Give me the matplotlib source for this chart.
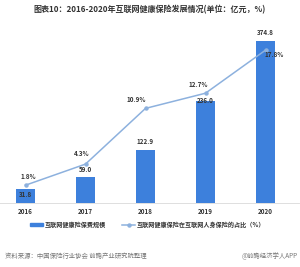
import numpy as np
import matplotlib.pyplot as plt
from matplotlib.lines import Line2D
from matplotlib.patches import Patch

plt.rcParams['font.family'] = ['Noto Sans CJK SC', 'DejaVu Sans']

# Data
years = ['2016', '2017', '2018', '2019', '2020']
premium = [31.8, 59.0, 122.9, 236.0, 374.8]     # 亿元
share = [1.8, 4.3, 10.9, 12.7, 17.8]            # %

bar_color = '#3d80dc'
line_color = '#8db1de'
text_color = '#333333'

fig = plt.figure(figsize=[3.0, 2.67], dpi=100)
ax = fig.add_axes([-0.005, 0.24, 1.0, 0.648])
x = np.arange(len(years))

ax.bar(x, premium, width=0.31, color=bar_color, zorder=2)
ax.set_xlim(-0.45, 4.55)
ax.set_ylim(0, 400)
ax.set_xticks(x)
ax.set_xticklabels(years, fontsize=4.5, fontweight='bold', color=text_color)
ax.tick_params(axis='x', length=0, pad=4)
ax.set_yticks([])
for s in ['top', 'right', 'left']:
    ax.spines[s].set_visible(False)
ax.spines['bottom'].set_color('#d9d9d9')
ax.spines['bottom'].set_linewidth(0.6)

# value labels on bars
for i, v in enumerate(premium):
    if i == 0:
        ax.text(i, v - 4, f'{v:.1f}', ha='center', va='top', fontsize=4.5,
                fontweight='bold', color=text_color, zorder=4)
    elif i == 3:
        ax.text(i, v + 1, f'{v:.1f}', ha='center', va='center', fontsize=4.5,
                fontweight='bold', color=text_color, zorder=4)
    else:
        ax.text(i, v + 10, f'{v:.1f}', ha='center', va='bottom', fontsize=4.5,
                fontweight='bold', color=text_color, zorder=4)

ax2 = ax.twinx()
ax2.plot(x, share, color=line_color, linewidth=1.1, marker='o',
         markersize=2.2, zorder=3)
ax2.set_ylim(-0.3, 20.2)
ax2.set_yticks([])
for s in ['top', 'right', 'left', 'bottom']:
    ax2.spines[s].set_visible(False)

offsets = [(2, 4), (-3, 5), (-7, 4), (-5, 4), (6, -6)]
for i, v in enumerate(share):
    ax2.annotate(f'{v:.1f}%', (x[i], v), xytext=offsets[i],
                 textcoords='offset points', ha='center', va='bottom',
                 fontsize=4.5, fontweight='bold', color=text_color)

# Legend
handles = [Patch(color=bar_color),
           Line2D([0], [0], color=line_color, marker='o', markersize=2.2,
                  linewidth=1.1)]
labels = ['互联网健康险保费规模', '互联网健康保险在互联网人身保险的占比（%）']
fig.legend(handles, labels, loc='center', bbox_to_anchor=(0.492, 0.16),
           ncol=2, frameon=False, prop={'size': 4.4, 'weight': 'bold'},
           handlelength=2.2, handleheight=0.45, columnspacing=2.6,
           handletextpad=0.3, labelcolor=text_color)

fig.text(0.5, 0.962, '图表10：2016-2020年互联网健康保险发展情况(单位：亿元，%)',
         ha='center', va='center', fontsize=5.8, fontweight='bold',
         color=text_color)
fig.text(0.017, 0.04, '资料来源：中国保险行业协会 前瞻产业研究院整理',
         ha='left', va='center', fontsize=4.6, color='#777777')
fig.text(0.993, 0.04, '@前瞻经济学人APP', ha='right', va='center',
         fontsize=4.6, color='#777777')

plt.savefig('out.png', dpi=100)
